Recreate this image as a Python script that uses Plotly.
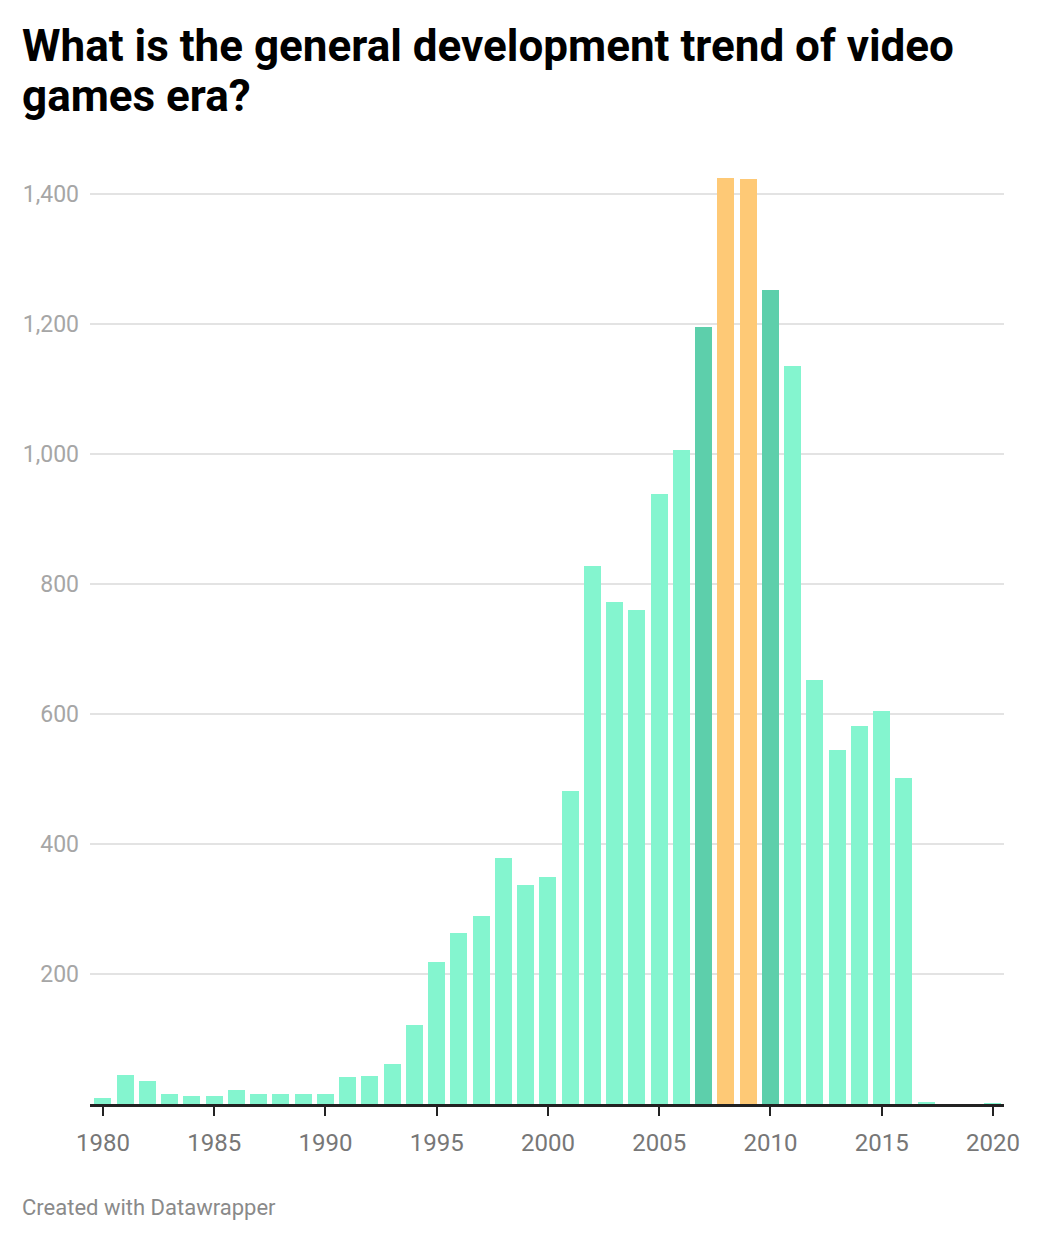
import plotly.graph_objects as go

# games released per year
years = list(range(1980, 2021))
counts = [9, 45, 35, 16, 13, 13, 21, 15, 15, 16,
          15, 41, 43, 61, 121, 218, 263, 289, 378, 337,
          349, 481, 828, 773, 760, 938, 1006, 1196, 1425, 1423,
          1253, 1135, 653, 544, 581, 605, 502, 3, 0, 0,
          1]

peak_years = [2008, 2009]
near_peak_years = [2007, 2010]

y_ticks = [200, 400, 600, 800, 1000, 1200, 1400]
x_ticks = list(range(1980, 2021, 5))

title_lines = ["What is the general development trend of video", "games era?"]

LIGHT = "#84f5cf"
DARK = "#5dcfab"
ORANGE = "#fec976"

colors = []
for yr in years:
    if yr in peak_years:
        colors.append(ORANGE)
    elif yr in near_peak_years:
        colors.append(DARK)
    else:
        colors.append(LIGHT)

W, H = 1040, 1240
L, R, T, B = 90, 36, 168, 136
plot_w = W - L - R
plot_h = H - T - B


def px_x(x):
    return (x - L) / plot_w


def px_y(y):
    return (H - B - y) / plot_h


fig = go.Figure(go.Bar(
    x=years,
    y=counts,
    width=0.76,
    marker=dict(color=colors, line=dict(width=0)),
    hovertemplate="%{x}: %{y:,}<extra></extra>",
))

fig.update_layout(
    width=W,
    height=H,
    margin=dict(l=L, r=R, t=T, b=B),
    paper_bgcolor="white",
    plot_bgcolor="white",
    font=dict(family="Roboto", color="#777777"),
    showlegend=False,
    xaxis=dict(
        range=[1979.42, 2020.5],
        tickvals=x_ticks,
        ticks="outside",
        ticklen=9,
        tickwidth=2,
        tickcolor="#222222",
        showline=True,
        linecolor="#222222",
        linewidth=2.5,
        showgrid=False,
        zeroline=False,
        ticklabelstandoff=6,
        tickfont=dict(size=24, color="#777777"),
        fixedrange=True,
    ),
    yaxis=dict(
        range=[0, 1440],
        tickvals=y_ticks,
        tickformat=",",
        showgrid=True,
        gridcolor="#e3e3e3",
        gridwidth=1.5,
        zeroline=False,
        showline=False,
        ticks="",
        ticklabelstandoff=10,
        tickfont=dict(size=23, color="#a6a6a6"),
        fixedrange=True,
    ),
    bargap=0,
)

# title as two lines to control the tight line spacing
for line, y_mid in zip(title_lines, [46, 96]):
    fig.add_annotation(
        text=f"<b>{line}</b>",
        xref="paper", yref="paper",
        x=px_x(20), xanchor="left",
        y=px_y(y_mid), yanchor="middle",
        showarrow=False,
        font=dict(family="Roboto", size=44, color="#000000"),
    )

fig.add_annotation(
    text="Created with Datawrapper",
    xref="paper", yref="paper",
    x=px_x(20), xanchor="left",
    y=px_y(1207), yanchor="middle",
    showarrow=False,
    font=dict(family="Roboto", size=22, color="#8a8a8a"),
)

fig.write_html(
    "out.html",
    config={"displayModeBar": False},
    post_script="document.body.style.margin='0';",
)
